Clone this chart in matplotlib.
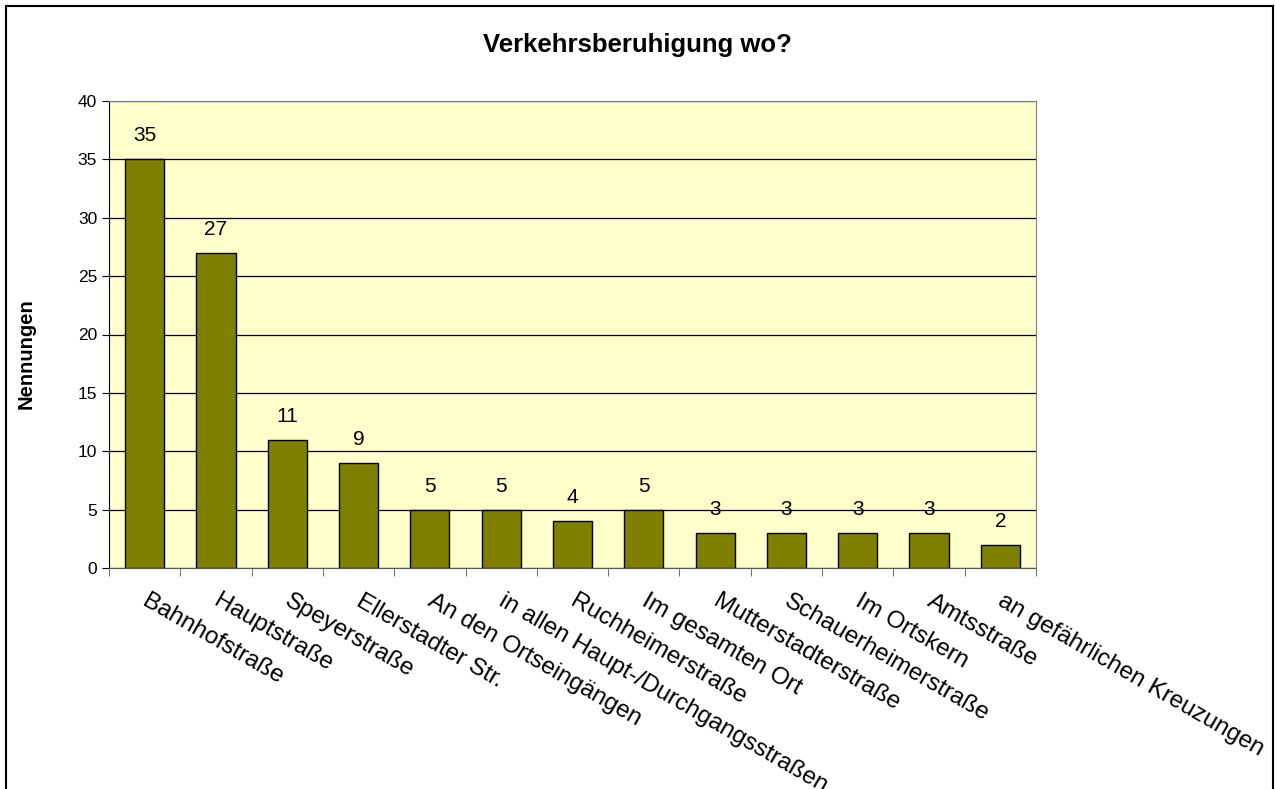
import matplotlib.pyplot as plt
from matplotlib.patches import Rectangle
from matplotlib.transforms import ScaledTranslation

plt.rcParams['font.family'] = ['Liberation Sans', 'DejaVu Sans']

categories = ["Bahnhofstraße", "Hauptstraße", "Speyerstraße", "Ellerstadter Str.",
              "An den Ortseingängen", "in allen Haupt-/Durchgangsstraßen",
              "Ruchheimerstraße", "Im gesamten Ort", "Mutterstadterstraße",
              "Schauerheimerstraße", "Im Ortskern", "Amtsstraße",
              "an gefährlichen Kreuzungen"]
values = [35, 27, 11, 9, 5, 5, 4, 5, 3, 3, 3, 3, 2]
yticks = [0, 5, 10, 15, 20, 25, 30, 35, 40]

fig = plt.figure(figsize=(12.75, 7.89), dpi=100)
ax = fig.add_axes([109 / 1275, 1 - 568 / 789, (1036 - 109) / 1275, (568 - 101) / 789])
ax.set_facecolor('#FFFFCC')

x = list(range(len(categories)))
ax.bar(x, values, width=0.55, color='#808000', edgecolor='black', linewidth=1, zorder=3)
for xi, v in zip(x, values):
    ax.annotate(str(v), (xi, v), xytext=(0, 10), textcoords='offset points',
                ha='center', va='bottom', fontsize=15, zorder=4)

ax.set_xlim(-0.5, len(categories) - 0.5)
ax.set_ylim(0, 40)
ax.set_yticks(yticks)
ax.tick_params(axis='y', labelsize=12.5, length=5, direction='out', color='black')
ax.yaxis.grid(True, color='black', linewidth=0.9, zorder=0)
ax.set_axisbelow(True)

ax.set_xticks(x)
ax.set_xticklabels(categories, rotation=-30, ha='left', rotation_mode='anchor', fontsize=17.5)
ax.tick_params(axis='x', length=0, pad=16)
shift = ScaledTranslation(5 / 100, 0, fig.dpi_scale_trans)
for lbl in ax.get_xticklabels():
    lbl.set_transform(lbl.get_transform() + shift)
ax.set_xticks([i - 0.5 for i in range(len(categories) + 1)], minor=True)
ax.tick_params(axis='x', which='minor', length=6, direction='out', color='#555555')

ax.spines['left'].set_color('black')
ax.spines['bottom'].set_color('#555555')
ax.spines['top'].set_color('#808080')
ax.spines['right'].set_color('#808080')

ax.set_ylabel("Nennungen", fontsize=14.5, fontweight='bold')
ax.yaxis.set_label_coords(-0.079, 0.458)
fig.text(0.5, 1 - 45 / 789, "Verkehrsberuhigung wo?", ha='center', va='center',
         fontsize=18.5, fontweight='bold')

fig.patches.append(Rectangle((6 / 1275, -0.05), 1267 / 1275, 1.05 - 6 / 789,
                             transform=fig.transFigure, fill=False,
                             edgecolor='black', linewidth=1.5))

fig.savefig("out.png", dpi=100)
